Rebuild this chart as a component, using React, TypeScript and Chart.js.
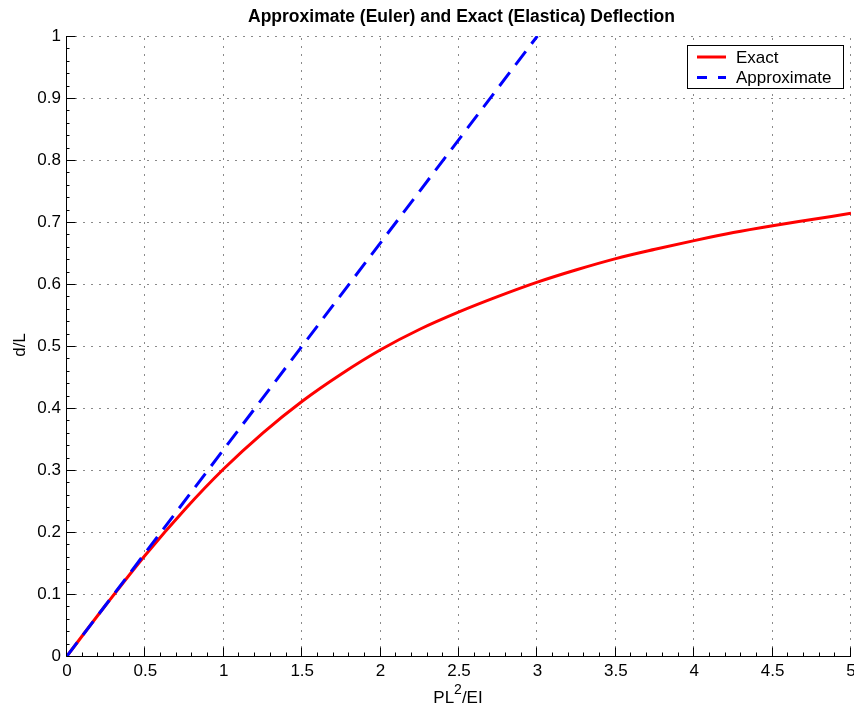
import React, { useEffect, useRef } from "react";
import { Chart, registerables } from "chart.js";

Chart.register(...registerables);

const titleText = "Approximate (Euler) and Exact (Elastica) Deflection";
const yAxisTitle = "d/L";
const xAxisTitleMain = "PL";
const xAxisTitleSup = "2";
const xAxisTitleTail = "/EI";

const loadX = [0, 0.25, 0.5, 0.75, 1, 1.25, 1.5, 1.75, 2, 2.25, 2.5, 2.75, 3, 3.25, 3.5, 3.75, 4, 4.25, 4.5, 4.75, 5];
const exactY = [0, 0.083, 0.163, 0.236, 0.302, 0.36, 0.411, 0.455, 0.494, 0.527, 0.555, 0.58, 0.603, 0.623, 0.641, 0.656, 0.67, 0.683, 0.694, 0.704, 0.714];
const approxX = [0, 3];
const approxY = [0, 1];

const xTicks = [0, 0.5, 1, 1.5, 2, 2.5, 3, 3.5, 4, 4.5, 5];
const yTicks = [0, 0.1, 0.2, 0.3, 0.4, 0.5, 0.6, 0.7, 0.8, 0.9, 1];

const legendLabels = ["Exact", "Approximate"];

const FONT = '"Liberation Sans", Arial, Helvetica, sans-serif';

const decor = {
  id: "matlabDecor",
  beforeDatasetsDraw(chart: any) {
    const { ctx, chartArea } = chart;
    const xs = chart.scales.x;
    const ys = chart.scales.y;
    ctx.save();
    ctx.strokeStyle = "#8a8a8a";
    ctx.lineWidth = 1;
    ctx.setLineDash([2, 6]);
    for (const v of xTicks) {
      if (v === 0) continue;
      const px = Math.round(xs.getPixelForValue(v)) - 0.5;
      ctx.beginPath();
      ctx.moveTo(px, chartArea.bottom);
      ctx.lineTo(px, chartArea.top);
      ctx.stroke();
    }
    for (const v of yTicks) {
      if (v === 0) continue;
      const py = Math.round(ys.getPixelForValue(v)) + 0.5;
      ctx.beginPath();
      ctx.moveTo(chartArea.left, py);
      ctx.lineTo(chartArea.right, py);
      ctx.stroke();
    }
    ctx.setLineDash([]);
    ctx.restore();
  },
  afterDatasetsDraw(chart: any) {
    const { ctx, chartArea } = chart;
    const xs = chart.scales.x;
    const ys = chart.scales.y;
    ctx.save();
    ctx.strokeStyle = "#000";
    ctx.lineWidth = 1;
    const ax = Math.round(chartArea.left) - 0.5;
    const ay = Math.round(chartArea.bottom) + 0.5;
    ctx.beginPath();
    ctx.moveTo(ax, chartArea.top);
    ctx.lineTo(ax, ay);
    ctx.lineTo(chartArea.right, ay);
    ctx.stroke();
    for (let i = 0; i <= 50; i++) {
      const v = i / 10;
      const px = Math.round(xs.getPixelForValue(v)) - 0.5;
      const len = i % 5 === 0 ? 9 : 4;
      ctx.beginPath();
      ctx.moveTo(px, ay);
      ctx.lineTo(px, ay - len);
      ctx.stroke();
    }
    for (let i = 0; i <= 50; i++) {
      const v = i / 50;
      const py = Math.round(ys.getPixelForValue(v)) + 0.5;
      const len = i % 5 === 0 ? 9 : 3;
      ctx.beginPath();
      ctx.moveTo(ax, py);
      ctx.lineTo(ax + len, py);
      ctx.stroke();
    }
    ctx.fillStyle = "#000";
    ctx.font = `bold 17.5px ${FONT}`;
    ctx.textAlign = "center";
    ctx.textBaseline = "alphabetic";
    ctx.fillText(titleText, 461.5, 22);
    ctx.font = `17px ${FONT}`;
    ctx.save();
    ctx.translate(25, 345);
    ctx.rotate(-Math.PI / 2);
    ctx.fillText(yAxisTitle, 0, 0);
    ctx.restore();
    const mainFont = `17px ${FONT}`;
    const supFont = `14px ${FONT}`;
    ctx.font = mainFont;
    const w1 = ctx.measureText(xAxisTitleMain).width;
    const w3 = ctx.measureText(xAxisTitleTail).width;
    ctx.font = supFont;
    const w2 = ctx.measureText(xAxisTitleSup).width;
    const total = w1 + w2 + w3;
    let sx = 458 - total / 2;
    const base = 703;
    ctx.textAlign = "left";
    ctx.font = mainFont;
    ctx.fillText(xAxisTitleMain, sx, base);
    sx += w1;
    ctx.font = supFont;
    ctx.fillText(xAxisTitleSup, sx, base - 9);
    sx += w2;
    ctx.font = mainFont;
    ctx.fillText(xAxisTitleTail, sx, base);
    const lx = 687.5, ly = 45.5, lw = 156, lh = 43;
    ctx.fillStyle = "#fff";
    ctx.fillRect(lx, ly, lw, lh);
    ctx.strokeStyle = "#000";
    ctx.lineWidth = 1;
    ctx.strokeRect(lx, ly, lw, lh);
    const colors = ["#ff0000", "#0000ff"];
    const dashes = [[], [10, 11]];
    const rows = [57, 77.5];
    for (let i = 0; i < 2; i++) {
      ctx.strokeStyle = colors[i];
      ctx.lineWidth = 3;
      ctx.setLineDash(dashes[i]);
      ctx.beginPath();
      ctx.moveTo(697, rows[i]);
      ctx.lineTo(726, rows[i]);
      ctx.stroke();
      ctx.setLineDash([]);
      ctx.fillStyle = "#000";
      ctx.font = `17px ${FONT}`;
      ctx.textAlign = "left";
      ctx.textBaseline = "middle";
      ctx.fillText(legendLabels[i], 736, rows[i] + 1);
    }
    ctx.restore();
  },
};

export default function App() {
  const ref = useRef<HTMLCanvasElement>(null);
  useEffect(() => {
    if (!ref.current) return;
    const chart = new Chart(ref.current, {
      type: "line",
      data: {
        datasets: [
          {
            label: legendLabels[0],
            data: loadX.map((x, i) => ({ x, y: exactY[i] })),
            borderColor: "#ff0000",
            borderWidth: 3,
            pointRadius: 0,
            cubicInterpolationMode: "monotone",
            fill: false,
            order: 1,
          },
          {
            label: legendLabels[1],
            data: approxX.map((x, i) => ({ x, y: approxY[i] })),
            borderColor: "#0000ff",
            borderWidth: 3,
            borderDash: [17, 9.5],
            pointRadius: 0,
            fill: false,
            order: 0,
          },
        ],
      },
      options: {
        responsive: false,
        devicePixelRatio: 1,
        animation: false,
        layout: { padding: { top: 36, right: 3, left: 0, bottom: 0 } },
        plugins: {
          legend: { display: false },
          title: { display: false },
          tooltip: { enabled: false },
        },
        scales: {
          x: {
            type: "linear",
            min: 0,
            max: 5,
            grid: { display: false, drawTicks: false, tickLength: 0 },
            border: { display: false },
            afterFit: (s: any) => {
              s.height = 52;
              s.paddingLeft = 0;
              s.paddingRight = 0;
            },
            afterBuildTicks: (s: any) => {
              s.ticks = xTicks.map((v) => ({ value: v }));
            },
            ticks: {
              color: "#000",
              font: { size: 17, family: FONT },
              padding: 5,
              maxRotation: 0,
              autoSkip: false,
              callback: (v: any) => String(Math.round(Number(v) * 10) / 10),
            },
          },
          y: {
            type: "linear",
            min: 0,
            max: 1,
            grid: { display: false, drawTicks: false, tickLength: 0 },
            border: { display: false },
            afterFit: (s: any) => {
              s.width = 67;
              s.paddingTop = 0;
              s.paddingBottom = 0;
            },
            afterBuildTicks: (s: any) => {
              s.ticks = yTicks.map((v) => ({ value: v }));
            },
            ticks: {
              color: "#000",
              font: { size: 17, family: FONT },
              padding: 6,
              autoSkip: false,
              callback: (v: any) => String(Math.round(Number(v) * 10) / 10),
            },
          },
        },
      },
      plugins: [decor],
    });
    return () => chart.destroy();
  }, []);
  return (
    <canvas
      ref={ref}
      width={854}
      height={708}
      style={{ position: "absolute", left: 0, top: 0, width: 854, height: 708, background: "#fff" }}
    />
  );
}
